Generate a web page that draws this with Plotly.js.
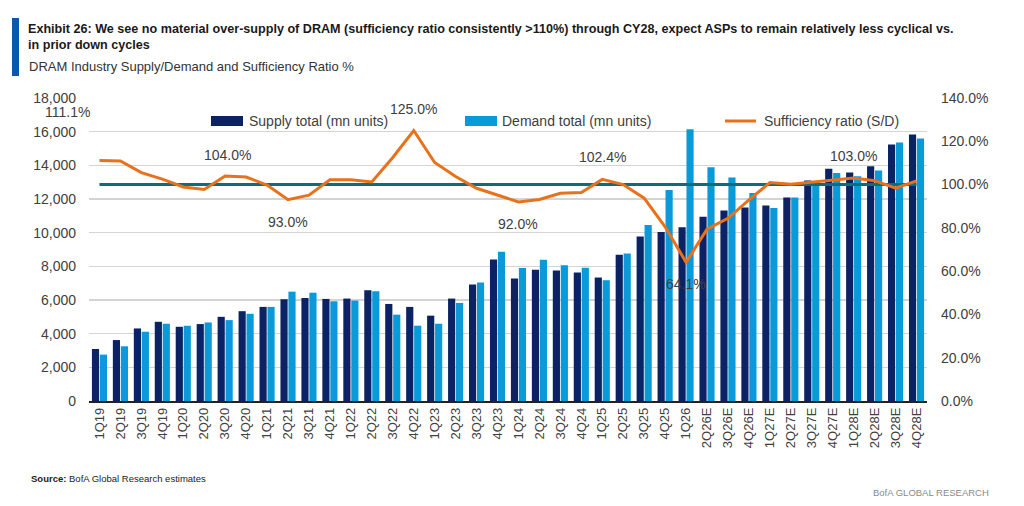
<!DOCTYPE html>
<html>
<head>
<meta charset="utf-8">
<script src="https://cdn.plot.ly/plotly-3.0.1.min.js"></script>
<style>
  html, body { margin: 0; padding: 0; background: #ffffff; }
  #chart { width: 1024px; height: 506px; }
</style>
</head>
<body>
<div id="chart"></div>
<script>
// ---------------- DATA ----------------
const categories = ['1Q19','2Q19','3Q19','4Q19','1Q20','2Q20','3Q20','4Q20','1Q21','2Q21','3Q21','4Q21',
  '1Q22','2Q22','3Q22','4Q22','1Q23','2Q23','3Q23','4Q23','1Q24','2Q24','3Q24','4Q24','1Q25','2Q25','3Q25','4Q25',
  '1Q26','2Q26E','3Q26E','4Q26E','1Q27E','2Q27E','3Q27E','4Q27E','1Q28E','2Q28E','3Q28E','4Q28E'];

const supplyTotal = [3090,3620,4310,4705,4410,4570,5000,5335,5590,6045,6120,6065,
  6085,6580,5765,5590,5070,6085,6920,8410,7280,7795,7755,7635,7335,8690,9770,10040,
  10320,10950,11310,11490,11610,12085,13095,13790,13570,13950,15240,15835];

const demandTotal = [2755,3250,4115,4590,4470,4665,4805,5180,5590,6495,6435,5925,
  5965,6520,5130,4475,4590,5825,7040,8865,7895,8390,8070,7915,7175,8765,10455,12540,
  16150,13890,13275,12350,11470,12085,13055,13550,13355,13690,15355,15595];

const sufficiencyRatio = [111.1,110.9,105.5,102.5,98.9,97.7,104.0,103.5,99.8,93.0,95.1,102.2,
  102.2,101.2,112.5,125.0,110.2,103.7,98.3,95.1,92.0,93.1,96.0,96.3,102.4,100.0,93.7,80.5,
  64.1,79.4,84.4,92.9,100.9,100.1,101.1,101.8,103.0,101.8,98.3,101.7];

const parityLevel = 100;

const leftTickValues = [0,2000,4000,6000,8000,10000,12000,14000,16000,18000];
const rightTickValues = [0,20,40,60,80,100,120,140];

const labelCategories = ['1Q19','3Q20','2Q21','4Q22','1Q24','1Q25','1Q26','1Q28E'];
const labelTexts = ['111.1%','104.0%','93.0%','125.0%','92.0%','102.4%','64.1%','103.0%'];

const seriesNames = ['Supply total (mn units)','Demand total (mn units)','Sufficiency ratio (S/D)'];

// ---------------- STYLE / LAYOUT ----------------
const W = 1024, H = 506;
const plotL = 89, plotR = 927, plotT = 98, plotB = 401;
const px2x = p => (p - plotL) / (plotR - plotL);
const py2y = p => (plotB - p) / (plotB - plotT);

const NAVY = '#0b2265', LIGHT = '#0a9ad9', ORANGE = '#e8711c', TEAL = '#0d6b7c';
const txtFont = 'Liberation Sans, Arial, sans-serif';

// label offsets (pixels) [xshift, yshift]
const labelOffsets = {
  '1Q19': [-32, 49], '3Q20': [2, 21], '2Q21': [0, -22], '4Q22': [0, 21],
  '1Q24': [0, -22], '1Q25': [0, 22], '1Q26': [0, -22], '1Q28E': [0, 22]
};

const firstCat = categories[0], lastCat = categories[categories.length - 1];

const traces = [
  { type: 'bar', name: seriesNames[0], x: categories, y: supplyTotal,
    marker: { color: NAVY }, yaxis: 'y', hoverinfo: 'x+y' },
  { type: 'bar', name: seriesNames[1], x: categories, y: demandTotal,
    marker: { color: LIGHT }, yaxis: 'y', hoverinfo: 'x+y' },
  { type: 'scatter', mode: 'lines', name: '100% parity', x: [firstCat, lastCat], y: [parityLevel, parityLevel],
    line: { color: TEAL, width: 3 }, yaxis: 'y2', hoverinfo: 'skip' },
  { type: 'scatter', mode: 'lines', name: seriesNames[2], x: categories, y: sufficiencyRatio,
    line: { color: ORANGE, width: 3 }, yaxis: 'y2' }
];

const annotations = [];
labelCategories.forEach((c, i) => {
  const idx = categories.indexOf(c);
  const off = labelOffsets[c];
  annotations.push({
    xref: 'x', yref: 'y2', x: c, y: sufficiencyRatio[idx],
    text: labelTexts[i], showarrow: false, xshift: off[0], yshift: off[1],
    font: { family: txtFont, size: 14, color: '#404040' }
  });
});

// manual legend texts
const legendTextX = [247, 500, 762];
seriesNames.forEach((n, i) => {
  annotations.push({
    xref: 'paper', yref: 'paper', x: px2x(legendTextX[i]), y: py2y(121),
    xanchor: 'left', yanchor: 'middle', text: n, showarrow: false,
    font: { family: txtFont, size: 14, color: '#404040' }
  });
});

// subtitle, source, branding
annotations.push({
  xref: 'paper', yref: 'paper', x: px2x(27), y: py2y(66), xanchor: 'left', yanchor: 'middle',
  text: 'DRAM Industry Supply/Demand and Sufficiency Ratio %', showarrow: false,
  font: { family: txtFont, size: 13, color: '#333333' }
});
annotations.push({
  xref: 'paper', yref: 'paper', x: px2x(29), y: py2y(478), xanchor: 'left', yanchor: 'middle',
  text: '<b>Source:</b> BofA Global Research estimates', showarrow: false,
  font: { family: txtFont, size: 9.5, color: '#222222' }
});
annotations.push({
  xref: 'paper', yref: 'paper', x: px2x(991), y: py2y(492), xanchor: 'right', yanchor: 'middle',
  text: 'BofA GLOBAL RESEARCH', showarrow: false,
  font: { family: txtFont, size: 9.5, color: '#8a8a8a' }
});

const shapes = [
  // title accent bar
  { type: 'rect', xref: 'paper', yref: 'paper', x0: px2x(12), x1: px2x(19), y0: py2y(76), y1: py2y(18),
    fillcolor: '#0a57b0', line: { width: 0 } },
  // legend swatches
  { type: 'rect', xref: 'paper', yref: 'paper', x0: px2x(211), x1: px2x(243), y0: py2y(126), y1: py2y(116),
    fillcolor: NAVY, line: { width: 0 } },
  { type: 'rect', xref: 'paper', yref: 'paper', x0: px2x(465), x1: px2x(497), y0: py2y(126), y1: py2y(116),
    fillcolor: LIGHT, line: { width: 0 } },
  { type: 'line', xref: 'paper', yref: 'paper', x0: px2x(725), x1: px2x(756), y0: py2y(121), y1: py2y(121),
    line: { color: ORANGE, width: 3 } }
];

const layout = {
  width: W, height: H,
  margin: { l: plotL, r: W - plotR, t: plotT, b: H - plotB, pad: 0 },
  paper_bgcolor: '#ffffff', plot_bgcolor: '#ffffff',
  showlegend: false,
  barmode: 'group', bargap: 0.24, bargroupgap: 0.1,
  title: {
    text: '<b>Exhibit 26: We see no material over-supply of DRAM (sufficiency ratio consistently &gt;110%) through CY28, expect ASPs to remain relatively less cyclical vs.<br>in prior down cycles</b>',
    xref: 'container', yref: 'container', x: 28 / W, xanchor: 'left',
    y: 1 - 33 / H, yanchor: 'top',
    font: { family: txtFont, size: 12.6, color: '#1a1a1a' }
  },
  xaxis: {
    type: 'category', range: [-0.5, categories.length - 0.5], autorange: false,
    tickangle: -90, showgrid: false, ticks: '',
    showline: true, linecolor: '#222222', linewidth: 1.5,
    tickfont: { family: txtFont, size: 13, color: '#404040' },
    automargin: false
  },
  yaxis: {
    range: [0, 18000], autorange: false, tickmode: 'array', tickvals: leftTickValues, tickformat: ',d',
    showgrid: true, gridcolor: '#d4d4d4', gridwidth: 1.5, zeroline: false,
    showline: false, ticks: '', ticklabelstandoff: 12,
    tickfont: { family: txtFont, size: 14, color: '#404040' },
    automargin: false
  },
  yaxis2: {
    overlaying: 'y', side: 'right', range: [0, 140], autorange: false,
    tickmode: 'array', tickvals: rightTickValues,
    ticktext: rightTickValues.map(v => v.toFixed(1) + '%'),
    showgrid: false, zeroline: false,
    showline: false, ticks: '', ticklabelstandoff: 13,
    tickfont: { family: txtFont, size: 14, color: '#404040' },
    automargin: false
  },
  annotations: annotations,
  shapes: shapes
};

Plotly.newPlot('chart', traces, layout, { displayModeBar: false, staticPlot: true });
</script>
</body>
</html>
